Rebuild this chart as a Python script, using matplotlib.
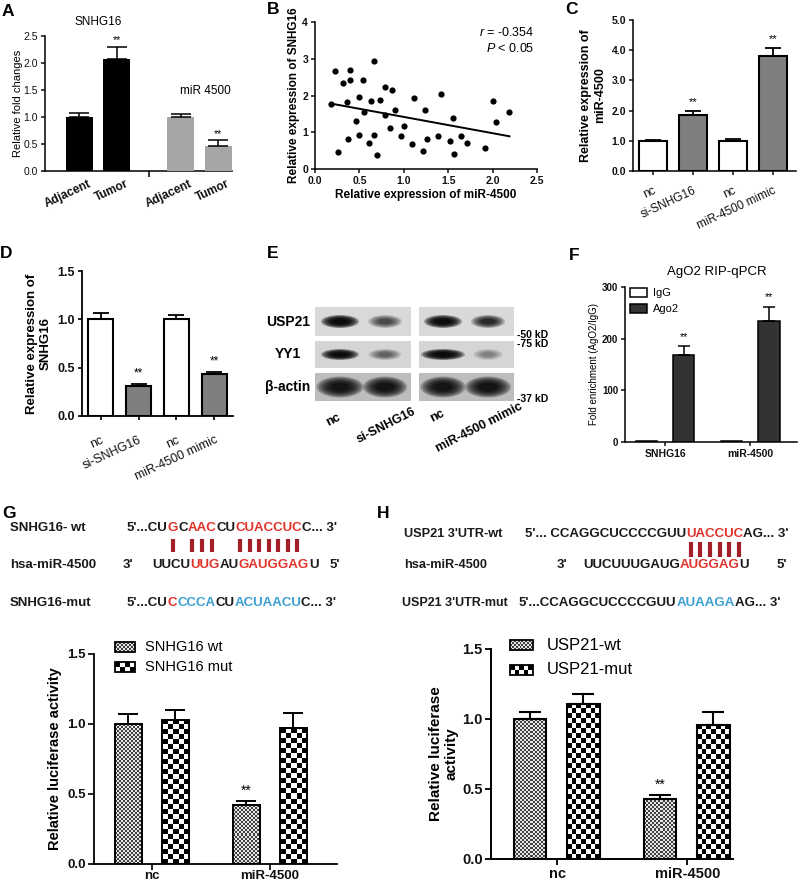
import numpy as np
import matplotlib
matplotlib.use('Agg')
import matplotlib.pyplot as plt
from matplotlib.patches import Rectangle, Ellipse
from matplotlib.transforms import ScaledTranslation

W, H = 798, 883
plt.rcParams['font.family'] = ['Liberation Sans', 'DejaVu Sans']
plt.rcParams['mathtext.fontset'] = 'custom'
plt.rcParams['mathtext.it'] = 'Liberation Sans:italic'
plt.rcParams['mathtext.rm'] = 'Liberation Sans'

# ---------------- data ----------------
a_labels = ['Adjacent', 'Tumor', 'Adjacent', 'Tumor']
a_groups = ['SNHG16', 'miR 4500']
a_values = [1.00, 2.07, 1.00, 0.47]
a_errors = [0.08, 0.23, 0.05, 0.10]
a_signif = [False, True, False, True]

b_x = [0.18, 0.22, 0.26, 0.32, 0.36, 0.37, 0.39, 0.39, 0.46, 0.49, 0.50, 0.54,
       0.55, 0.61, 0.63, 0.66, 0.67, 0.70, 0.73, 0.79, 0.79, 0.85, 0.87, 0.90,
       0.97, 1.00, 1.09, 1.12, 1.22, 1.24, 1.26, 1.39, 1.42, 1.52, 1.55, 1.57,
       1.64, 1.71, 1.91, 2.00, 2.04, 2.18]
b_y = [1.78, 2.68, 0.47, 2.34, 1.83, 0.81, 2.70, 2.43, 1.31, 0.93, 1.95, 2.42,
       1.56, 0.71, 1.86, 0.93, 2.93, 0.37, 1.88, 1.48, 2.22, 1.11, 2.14, 1.60,
       0.90, 1.17, 0.67, 1.92, 0.50, 1.61, 0.82, 0.91, 2.04, 0.77, 1.38, 0.41,
       0.89, 0.71, 0.56, 1.85, 1.27, 1.54]
b_fit_x = [0.18, 2.19]
b_fit_y = [1.78, 0.89]
b_r = '-0.354'
b_p = '0.05'

c_labels = ['nc', 'si-SNHG16', 'nc', 'miR-4500 mimic']
c_values = [1.00, 1.85, 1.00, 3.80]
c_errors = [0.04, 0.13, 0.06, 0.28]
c_signif = [False, True, False, True]

d_labels = ['nc', 'si-SNHG16', 'nc', 'miR-4500 mimic']
d_values = [1.00, 0.31, 1.00, 0.43]
d_errors = [0.07, 0.02, 0.04, 0.03]
d_signif = [False, True, False, True]

e_rows = ['USP21', 'YY1', 'β-actin']
e_lanes = ['nc', 'si-SNHG16', 'nc', 'miR-4500 mimic']
e_band_intensity = [[1.00, 0.40, 0.97, 0.62],
                    [0.97, 0.30, 1.00, 0.20],
                    [0.78, 0.78, 0.78, 0.78]]
e_markers = ['-50 kD', '-75 kD', '-37 kD']

f_groups = ['SNHG16', 'miR-4500']
f_series = ['IgG', 'Ago2']
f_igg = [1.5, 1.5]
f_ago2 = [168, 235]
f_ago2_err = [18, 27]

g_groups = ['nc', 'miR-4500']
g_series = ['SNHG16 wt', 'SNHG16 mut']
g_wt = [1.00, 0.42]
g_wt_err = [0.07, 0.03]
g_mut = [1.03, 0.97]
g_mut_err = [0.07, 0.11]
g_signif = [False, True]

h_groups = ['nc', 'miR-4500']
h_series = ['USP21-wt', 'USP21-mut']
h_wt = [1.00, 0.43]
h_wt_err = [0.05, 0.03]
h_mut = [1.11, 0.96]
h_mut_err = [0.07, 0.09]
h_signif = [False, True]

# sequences: (text, colour code)
g_seq_wt = [("5'...CU", 'k'), ("G", 'r'), ("C", 'k'), ("AAC", 'r'), ("CU", 'k'),
            ("CUACCUC", 'r'), ("C... 3'", 'k')]
g_seq_mir = [("UUCU", 'k'), ("UUG", 'r'), ("AU", 'k'), ("GAUGGAG", 'r'), ("U", 'k')]
g_seq_mut = [("5'...CU", 'k'), ("C", 'r'), ("CCCA", 'b'), ("CU", 'k'),
             ("ACUAACU", 'b'), ("C... 3'", 'k')]
h_seq_wt = [("5'... CCAGGCUCCCCGUU", 'k'), ("UACCUC", 'r'), ("AG... 3'", 'k')]
h_seq_mir = [("UUCUUUGAUG", 'k'), ("AUGGAG", 'r'), ("U", 'k')]
h_seq_mut = [("5'...CCAGGCUCCCCGUU", 'k'), ("AUAAGA", 'b'), ("AG... 3'", 'k')]

COL = {'k': '#1a1a1a', 'r': '#e2332b', 'b': '#3b9fd4'}
PAIR = '#a31f27'

# ---------------- helpers ----------------
fig = plt.figure(figsize=(W / 100, H / 100), dpi=100)


def make_ax(l, t, r, b, xlim, ylim, lw=1.1):
    ax = fig.add_axes([l / W, 1 - b / H, (r - l) / W, (b - t) / H])
    ax.set_xlim(*xlim)
    ax.set_ylim(*ylim)
    ax.patch.set_alpha(0)
    for s in ('top', 'right'):
        ax.spines[s].set_visible(False)
    for s in ('left', 'bottom'):
        ax.spines[s].set_linewidth(lw)
    ax.tick_params(direction='out', length=3, width=lw, pad=2, colors='#111111')
    ax._px = (l, t, r, b)
    return ax


def ylab(ax, text, xpx, size, weight='bold'):
    l, t, r, b = ax._px
    ax.set_ylabel(text, fontsize=size, fontweight=weight, va='center', ha='center',
                  linespacing=1.15)
    ax.yaxis.set_label_coords((xpx - l) / (r - l), 0.5)


def up_err(ax, x, v, e, cap, lw=1.1):
    ax.errorbar(x, v, yerr=[np.zeros(len(v)), e], fmt='none', ecolor='black',
                elinewidth=lw, capsize=cap, capthick=lw, zorder=4)


def stars(ax, x, v, e, flags, size, dy=1.0):
    for xi, vi, ei, f in zip(x, v, e, flags):
        if f:
            ax.annotate('**', (xi, vi + ei), xytext=(0, dy), textcoords='offset points',
                        ha='center', va='bottom', fontsize=size)


def shift_labels(ax, dx_px):
    for lab in ax.get_xticklabels():
        lab.set_transform(lab.get_transform() +
                          ScaledTranslation(dx_px / 100, 0, fig.dpi_scale_trans))


def checker(nx, ny, lo, hi):
    arr = (np.add.outer(np.arange(ny), np.arange(nx)) % 2).astype(float)
    return lo + arr * (hi - lo)


def checker_bars(ax, bars, cell, lo, hi):
    for bar in bars:
        x0, y0 = bar.get_x(), bar.get_y()
        w, h = bar.get_width(), bar.get_height()
        p0 = ax.transData.transform((x0, y0))
        p1 = ax.transData.transform((x0 + w, y0 + h))
        nx = max(1, int(round(abs(p1[0] - p0[0]) / cell)))
        ny = max(1, int(round(abs(p1[1] - p0[1]) / cell)))
        im = ax.imshow(checker(nx, ny, lo, hi), cmap='gray', vmin=0, vmax=1,
                       extent=[x0, x0 + w, y0, y0 + h], aspect='auto',
                       interpolation='nearest', zorder=2)
        im.set_clip_path(bar)


# ---------------- Panel A ----------------
axA = make_ax(45, 36, 232, 171, (-0.92, 4.07), (0, 2.5))
a_pos = [0, 1, 2.7, 3.7]
axA.bar(a_pos, a_values, width=0.72, color=['black', 'black', '#a6a6a6', '#a6a6a6'],
        zorder=3)
up_err(axA, a_pos, a_values, a_errors, cap=7)
stars(axA, a_pos, a_values, a_errors, a_signif, 7.5)
axA.set_yticks([0, 0.5, 1.0, 1.5, 2.0, 2.5])
axA.set_yticklabels(['%.1f' % v for v in [0, 0.5, 1.0, 1.5, 2.0, 2.5]], fontsize=7.5)
axA.set_xticks(a_pos)
axA.set_xticklabels(a_labels, rotation=25, ha='right', rotation_mode='anchor',
                    fontsize=8.5, fontweight='bold')
axA.tick_params(axis='x', length=0, pad=5)
axA.set_xticks([(a_pos[1] + a_pos[2]) / 2], minor=True)
axA.tick_params(axis='x', which='minor', length=4, width=1.1)
shift_labels(axA, 8)
axA.text(0.5, 2.76, a_groups[0], ha='center', va='center', fontsize=8.5)
axA.text(3.35, 1.48, a_groups[1], ha='center', va='center', fontsize=8.5)
ylab(axA, 'Relative fold changes', 18, 8, weight='normal')

# ---------------- Panel B ----------------
axB = make_ax(315, 22, 537, 169, (0, 2.5), (0, 4))
axB.scatter(b_x, b_y, s=20, c='black', zorder=3, clip_on=False, linewidths=0)
axB.plot(b_fit_x, b_fit_y, color='black', lw=1.4, zorder=2)
bx_t = [0, 0.5, 1.0, 1.5, 2.0, 2.5]
axB.set_xticks(bx_t)
axB.set_xticklabels(['%.1f' % v for v in bx_t], fontsize=7.5, fontweight='bold')
axB.set_yticks([0, 1, 2, 3, 4])
axB.set_yticklabels(['0', '1', '2', '3', '4'], fontsize=7.5, fontweight='bold')
axB.set_xlabel('Relative expression of miR-4500', fontsize=8.5, fontweight='bold',
               va='center')
axB.xaxis.set_label_coords(0.5, (169 - 195) / (169 - 22))
ylab(axB, 'Relative expression of SNHG16', 294, 8.5)

# ---------------- Panel C ----------------
axC = make_ax(633, 20, 796, 171, (-0.5, 3.575), (0, 5))
c_pos = np.arange(4)
axC.bar(c_pos, c_values, width=0.7, color=['white', '#7f7f7f', 'white', '#7f7f7f'],
        edgecolor='black', linewidth=1.5, zorder=3)
up_err(axC, c_pos, c_values, c_errors, cap=6, lw=1.3)
stars(axC, c_pos, c_values, c_errors, c_signif, 8, dy=3)
axC.set_yticks([0, 1, 2, 3, 4, 5])
axC.set_yticklabels(['%.1f' % v for v in [0, 1, 2, 3, 4, 5]], fontsize=7.5,
                    fontweight='bold')
axC.set_xticks(c_pos)
axC.set_xticklabels(c_labels, rotation=25, ha='right', rotation_mode='anchor',
                    fontsize=8.5)
axC.tick_params(axis='x', pad=7)
ylab(axC, 'Relative expression of\nmiR-4500', 593, 9)

# ---------------- Panel D ----------------
axD = make_ax(82, 271, 233, 416, (-0.49, 3.49), (0, 1.5), lw=1.3)
d_pos = np.arange(4)
axD.bar(d_pos, d_values, width=0.66, color=['white', '#7f7f7f', 'white', '#7f7f7f'],
        edgecolor='black', linewidth=1.5, zorder=3)
up_err(axD, d_pos, d_values, d_errors, cap=6, lw=1.3)
stars(axD, d_pos, d_values, d_errors, d_signif, 8.5, dy=3)
axD.set_yticks([0, 0.5, 1.0, 1.5])
axD.set_yticklabels(['0.0', '0.5', '1.0', '1.5'], fontsize=9, fontweight='bold')
axD.set_xticks(d_pos)
axD.set_xticklabels(d_labels, rotation=25, ha='right', rotation_mode='anchor',
                    fontsize=9)
axD.tick_params(axis='x', pad=10)
ylab(axD, 'Relative expression of\nSNHG16', 38.5, 9.5)

# ---------------- Panel F ----------------
axF = make_ax(625, 287, 797, 442, (-0.47, 1.55), (0, 300))
f_pos = np.arange(2)
bw = 0.25
axF.bar(f_pos - 0.22, f_igg, width=bw, color='white', edgecolor='black', linewidth=1.1,
        zorder=3)
axF.bar(f_pos + 0.22, f_ago2, width=bw, color='#333333', edgecolor='black',
        linewidth=1.1, zorder=3)
up_err(axF, f_pos + 0.22, f_ago2, f_ago2_err, cap=4)
stars(axF, f_pos + 0.22, f_ago2, f_ago2_err, [True, True], 7.5, dy=3)
axF.set_yticks([0, 100, 200, 300])
axF.set_yticklabels(['0', '100', '200', '300'], fontsize=7, fontweight='bold')
axF.set_xticks(f_pos)
axF.set_xticklabels(f_groups, fontsize=7.5, fontweight='bold')
ylab(axF, 'Fold enrichment (AgO2/IgG)', 594, 7, weight='normal')

# ---------------- Panel G ----------------
axG = make_ax(94, 654, 337, 864, (-0.49, 1.57), (0, 1.5), lw=1.3)
g_pos = np.arange(2)
gw = 0.23
bg1 = axG.bar(g_pos - 0.2, g_wt, width=gw, color='white', linewidth=0, zorder=1)
bg2 = axG.bar(g_pos + 0.2, g_mut, width=gw, color='white', linewidth=0, zorder=1)
checker_bars(axG, bg1, 2, 0.25, 0.9)
checker_bars(axG, bg2, 5, 0.0, 1.0)
axG.bar(g_pos - 0.2, g_wt, width=gw, fill=False, edgecolor='black', linewidth=1.4,
        zorder=3)
axG.bar(g_pos + 0.2, g_mut, width=gw, fill=False, edgecolor='black', linewidth=1.4,
        zorder=3)
up_err(axG, g_pos - 0.2, g_wt, g_wt_err, cap=7, lw=1.4)
up_err(axG, g_pos + 0.2, g_mut, g_mut_err, cap=7, lw=1.4)
stars(axG, g_pos - 0.2, g_wt, g_wt_err, g_signif, 10, dy=2)
axG.set_xlim(-0.49, 1.57)
axG.set_ylim(0, 1.5)
axG.set_yticks([0, 0.5, 1.0, 1.5])
axG.set_yticklabels(['0.0', '0.5', '1.0', '1.5'], fontsize=9.5, fontweight='bold')
axG.set_xticks(g_pos)
axG.set_xticklabels(g_groups, fontsize=9.5, fontweight='bold')
axG.tick_params(axis='both', length=4)
axG.tick_params(axis='x', pad=0.5)
ylab(axG, 'Relative luciferase activity', 55, 10.5)

# ---------------- Panel H ----------------
axH = make_ax(491, 649, 733, 859, (-0.51, 1.35), (0, 1.5), lw=1.4)
h_pos = np.arange(2)
hw = 0.25
bh1 = axH.bar(h_pos - 0.21, h_wt, width=hw, color='white', linewidth=0, zorder=1)
bh2 = axH.bar(h_pos + 0.20, h_mut, width=hw, color='white', linewidth=0, zorder=1)
checker_bars(axH, bh1, 2, 0.25, 0.9)
checker_bars(axH, bh2, 5, 0.0, 1.0)
axH.bar(h_pos - 0.21, h_wt, width=hw, fill=False, edgecolor='black', linewidth=1.5,
        zorder=3)
axH.bar(h_pos + 0.20, h_mut, width=hw, fill=False, edgecolor='black', linewidth=1.5,
        zorder=3)
up_err(axH, h_pos - 0.21, h_wt, h_wt_err, cap=8, lw=1.5)
up_err(axH, h_pos + 0.20, h_mut, h_mut_err, cap=8, lw=1.5)
stars(axH, h_pos - 0.21, h_wt, h_wt_err, h_signif, 10, dy=2)
axH.set_xlim(-0.51, 1.35)
axH.set_ylim(0, 1.5)
axH.set_yticks([0, 0.5, 1.0, 1.5])
axH.set_yticklabels(['0.0', '0.5', '1.0', '1.5'], fontsize=10.5, fontweight='bold')
axH.set_xticks(h_pos)
axH.set_xticklabels(h_groups, fontsize=10.5, fontweight='bold')
axH.tick_params(axis='both', length=4)
axH.tick_params(axis='x', pad=1.5)
ylab(axH, 'Relative luciferase\nactivity', 444, 11)

# ---------------- overlay (pixel coordinates) ----------------
ov = fig.add_axes([0, 0, 1, 1])
ov.set_xlim(0, W)
ov.set_ylim(H, 0)
ov.axis('off')
renderer = fig.canvas.get_renderer()

for letter, (lx, ly) in zip('ABCDEFGH', [(8, 11), (273, 10), (571, 10), (6, 254),
                                         (273, 253), (574, 255), (9, 513), (383, 513)]):
    ov.text(lx, ly, letter, fontsize=12.5, fontweight='bold', ha='center', va='center')

# B statistics
ov.text(534, 32, '$r$ = ' + b_r, ha='right', va='center', fontsize=9)
ov.text(534, 48, '$P$ < ' + b_p, ha='right', va='center', fontsize=9)

# F title + legend
ov.text(717, 272, 'AgO2 RIP-qPCR', ha='center', va='center', fontsize=9.5)
ov.add_patch(Rectangle((630, 288), 17, 9, facecolor='white', edgecolor='black', lw=1.1))
ov.add_patch(Rectangle((630, 304), 17, 9, facecolor='#333333', edgecolor='black', lw=1.1))
ov.text(653, 292.5, f_series[0], va='center', ha='left', fontsize=8)
ov.text(653, 308.5, f_series[1], va='center', ha='left', fontsize=8)

# E western blot
blot_x = [(315, 411), (419, 514)]
row_y = [(307, 336), (341, 368), (373, 401)]
row_bg = ['#d9d9d9', '#d5d5d5', '#bdbdbd']
lane_cx = [340, 385, 443, 488]
band_w = [[38, 34, 38, 34], [38, 33, 44, 30], [47, 44, 45, 46]]
band_h = [13, 11, 21]
for ri, (y0, y1) in enumerate(row_y):
    for (x0, x1) in blot_x:
        ov.add_patch(Rectangle((x0, y0), x1 - x0, y1 - y0, facecolor=row_bg[ri],
                               edgecolor='none'))
    cy = (y0 + y1) / 2
    for li, cx in enumerate(lane_cx):
        inten = e_band_intensity[ri][li]
        for k in range(8):
            f = 1 - k * 0.09
            ov.add_patch(Ellipse((cx, cy), band_w[ri][li] * f, band_h[ri] * f,
                                 facecolor='black', edgecolor='none',
                                 alpha=min(1, 0.3 * inten)))
    ov.text(288, cy, e_rows[ri], ha='center', va='center', fontsize=10,
            fontweight='bold')
for m, my in zip(e_markers, [335, 344, 399]):
    ov.text(517, my, m, ha='left', va='center', fontsize=7.5, fontweight='bold')
ov.text(333, 420, e_lanes[0], rotation=27, ha='center', va='center', fontsize=9,
        fontweight='bold')
ov.text(437, 416, e_lanes[2], rotation=27, ha='center', va='center', fontsize=9,
        fontweight='bold')
ov.text(412, 406, e_lanes[1], rotation=27, ha='right', va='top',
        rotation_mode='anchor', fontsize=9, fontweight='bold')
ov.text(519, 401, e_lanes[3], rotation=27, ha='right', va='top',
        rotation_mode='anchor', fontsize=9, fontweight='bold')


def tw(s, size):
    if not s:
        return 0.0
    t = ov.text(0, 0, s, fontsize=size, fontweight='bold')
    w = t.get_window_extent(renderer).width
    t.remove()
    return w


def draw_seq(x, y, segs, size=9.5):
    centers = []
    for s, c in segs:
        ov.text(x, y, s, color=COL[c], fontsize=size, fontweight='bold', ha='left',
                va='center')
        if c == 'r':
            for i in range(len(s)):
                centers.append(x + (tw(s[:i], size) + tw(s[:i + 1], size)) / 2)
        x += tw(s, size)
    return centers


def label(x, y, s, size=9.5):
    ov.text(x, y, s, color=COL['k'], fontsize=size, fontweight='bold', ha='left',
            va='center')


# G sequences
label(10, 528, 'SNHG16- wt')
cg = draw_seq(127, 528, g_seq_wt)
for cx in cg:
    ov.plot([cx, cx], [539, 552], color=PAIR, lw=3, solid_capstyle='butt')
label(10, 565, 'hsa-miR-4500')
label(123, 565, "3'")
draw_seq(152, 565, g_seq_mir)
label(330, 565, "5'")
label(10, 603, 'SNHG16-mut')
draw_seq(127, 603, g_seq_mut)

# H sequences
label(404, 534, "USP21 3'UTR-wt", size=9.2)
chh = draw_seq(525, 534, h_seq_wt)
for cx in chh:
    ov.plot([cx, cx], [542, 557], color=PAIR, lw=3, solid_capstyle='butt')
label(404, 565, 'hsa-miR-4500', size=9.2)
label(557, 565, "3'")
draw_seq(583, 565, h_seq_mir)
label(777, 565, "5'")
label(402, 603, "USP21 3'UTR-mut", size=9.0)
draw_seq(519, 603, h_seq_mut)


# G / H legends
def legend_box(x0, y0, w, h, cell, lo, hi):
    nx = max(1, int(round(w / cell)))
    ny = max(1, int(round(h / cell)))
    ov.imshow(checker(nx, ny, lo, hi), cmap='gray', vmin=0, vmax=1,
              extent=[x0, x0 + w, y0 + h, y0], aspect='auto', interpolation='nearest')
    ov.add_patch(Rectangle((x0, y0), w, h, fill=False, edgecolor='black', lw=1.3))


legend_box(115, 642, 20, 10, 2, 0.25, 0.9)
legend_box(115, 662, 20, 10, 5, 0.0, 1.0)
ov.text(145, 647, g_series[0], va='center', ha='left', fontsize=10.5)
ov.text(145, 667, g_series[1], va='center', ha='left', fontsize=10.5)
legend_box(510, 640, 23, 10, 2, 0.25, 0.9)
legend_box(510, 665, 23, 10, 5, 0.0, 1.0)
ov.text(547, 645, h_series[0], va='center', ha='left', fontsize=12)
ov.text(547, 670, h_series[1], va='center', ha='left', fontsize=12)

ov.set_xlim(0, W)
ov.set_ylim(H, 0)

fig.savefig('out.png', dpi=100)
